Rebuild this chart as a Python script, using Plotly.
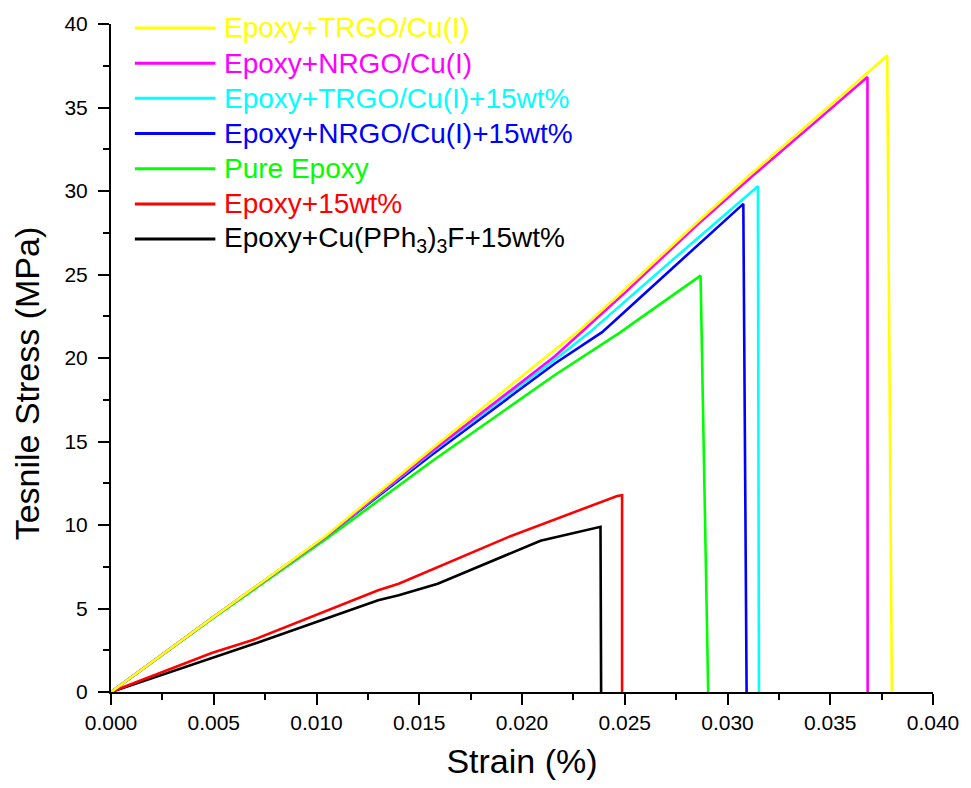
import plotly.graph_objects as go

# Tensile stress-strain curves (strain, stress in MPa)
strain_trgo = [0, 0.0050, 0.0104, 0.0156, 0.0216, 0.0227, 0.0250, 0.0285, 0.0311, 0.0342, 0.0360, 0.03777, 0.0380]
stress_trgo = [0, 4.5, 9.3, 14.55, 20.5, 21.55, 24.1, 28.1, 30.97, 34.25, 36.2, 38.11, 0]

strain_nrgo = [0, 0.0050, 0.0104, 0.0156, 0.0216, 0.0250, 0.0285, 0.0311, 0.0342, 0.03681, 0.03682]
stress_nrgo = [0, 4.5, 9.25, 14.4, 20.1, 23.9, 27.95, 30.78, 34.05, 36.83, 0]

strain_trgo15 = [0, 0.0050, 0.0104, 0.0156, 0.0216, 0.0233, 0.0272, 0.0300, 0.03148, 0.03153]
stress_trgo15 = [0, 4.5, 9.25, 14.35, 19.9, 21.55, 25.74, 28.7, 30.28, 0]

strain_nrgo15 = [0, 0.0050, 0.0104, 0.0156, 0.0216, 0.0239, 0.0272, 0.0295, 0.03077, 0.03093]
stress_nrgo15 = [0, 4.5, 9.25, 14.2, 19.67, 21.55, 25.24, 27.8, 29.23, 0]

strain_pure = [0, 0.0050, 0.0104, 0.0156, 0.0216, 0.0248, 0.0256, 0.0272, 0.02869, 0.02906]
stress_pure = [0, 4.45, 9.1, 13.8, 18.98, 21.55, 22.25, 23.65, 24.93, 0]

strain_ep15 = [0, 0.0049, 0.0069, 0.0130, 0.0140, 0.0193, 0.02463, 0.02487, 0.02487]
stress_ep15 = [0, 2.34, 3.11, 6.09, 6.48, 9.26, 11.74, 11.78, 0]

strain_cu15 = [0, 0.0050, 0.0075, 0.0130, 0.0140, 0.0159, 0.0209, 0.02382, 0.02385]
stress_cu15 = [0, 2.10, 3.11, 5.49, 5.79, 6.48, 9.06, 9.89, 0]

labels = [
    "Epoxy+TRGO/Cu(I)",
    "Epoxy+NRGO/Cu(I)",
    "Epoxy+TRGO/Cu(I)+15wt%",
    "Epoxy+NRGO/Cu(I)+15wt%",
    "Pure Epoxy",
    "Epoxy+15wt%",
    "Epoxy+Cu(PPh<sub>3</sub>)<sub>3</sub>F+15wt%",
]
colors = ["#FFFF00", "#FF00FF", "#00FFFF", "#0000FF", "#00FF00", "#FF0000", "#000000"]
series = [
    (strain_trgo, stress_trgo),
    (strain_nrgo, stress_nrgo),
    (strain_trgo15, stress_trgo15),
    (strain_nrgo15, stress_nrgo15),
    (strain_pure, stress_pure),
    (strain_ep15, stress_ep15),
    (strain_cu15, stress_cu15),
]

x_ticks = [0, 0.005, 0.010, 0.015, 0.020, 0.025, 0.030, 0.035, 0.040]
y_ticks = [0, 5, 10, 15, 20, 25, 30, 35, 40]

FONT = "Liberation Sans, Arial, sans-serif"
W, H = 971, 788
ML, MR, MT, MB = 111, 33, 20, 96

fig = go.Figure()
# draw the last legend entry first so the top entry ends up on top
for (xs, ys), name, col in reversed(list(zip(series, labels, colors))):
    fig.add_trace(go.Scatter(x=xs, y=ys, mode="lines", name=name,
                             line=dict(color=col, width=2.6), showlegend=False))


def px_x(px):
    return (px - ML) / (W - ML - MR)


def px_y(py):
    return (H - MB - py) / (H - MT - MB)


# hand-drawn legend: coloured sample line + coloured label
row0, row_step = 24, 35.4
for i, (name, col) in enumerate(zip(labels, colors)):
    yy = px_y(row0 + i * row_step)
    fig.add_shape(type="line", xref="paper", yref="paper",
                  x0=px_x(135), x1=px_x(216), y0=yy, y1=yy,
                  line=dict(color=col, width=3))
    fig.add_annotation(xref="paper", yref="paper", x=px_x(223), y=yy,
                       text=name, showarrow=False, xanchor="left", yanchor="middle",
                       font=dict(family=FONT, size=28, color=col))

# y axis title
fig.add_annotation(xref="paper", yref="paper", x=px_x(26), y=px_y(382),
                   text="Tesnile Stress (MPa)", textangle=-90, showarrow=False,
                   xanchor="center", yanchor="middle",
                   font=dict(family=FONT, size=34, color="black"))

axis_common = dict(showline=True, linecolor="black", linewidth=2, mirror=False,
                   ticks="outside", ticklen=11, tickwidth=2, tickcolor="black",
                   showgrid=False, zeroline=False,
                   tickfont=dict(family=FONT, size=21, color="black"))

fig.update_xaxes(range=[0, 0.040], tickvals=x_ticks, tickformat=".3f",
                 minor=dict(ticks="outside", ticklen=6, tickwidth=2, tickcolor="black", dtick=0.0025),
                 title=dict(text="Strain (%)", font=dict(family=FONT, size=34, color="black"), standoff=16),
                 **axis_common)
fig.update_yaxes(range=[0, 40], tickvals=y_ticks,
                 minor=dict(ticks="outside", ticklen=6, tickwidth=2, tickcolor="black", dtick=2.5),
                 ticklabelstandoff=6,
                 **axis_common)

fig.update_layout(width=W, height=H, margin=dict(l=ML, r=MR, t=MT, b=MB),
                  paper_bgcolor="white", plot_bgcolor="white",
                  font=dict(family=FONT, color="black"))

fig.write_html("out.html")
